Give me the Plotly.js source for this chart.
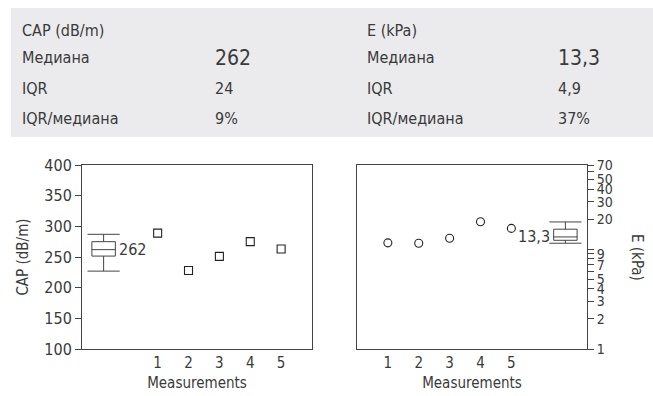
<!DOCTYPE html>
<html><head><meta charset="utf-8">
<script src="https://cdn.plot.ly/plotly-3.0.1.min.js"></script>
<style>html,body{margin:0;padding:0;background:#fff}#c{width:653px;height:396px}</style>
</head><body><div id="c"></div>
<script>
// ---- data ----
const measurements = [1, 2, 3, 4, 5];
const capValues = [289, 228, 251, 275, 263];
const eValues = [11.6, 11.5, 12.9, 18.9, 16.2];
// box summaries: [lower, q1, median, q3, upper]
const capBox = [227, 251.5, 262, 275, 287];
const eBox = [11.5, 12.3, 13.3, 15.9, 18.8];
const capMedianLabel = "262";
const eMedianLabel = "13,3";
const capBoxX = -0.75;
const eBoxX = 6.75;
const eTickVals = [1, 2, 3, 4, 5, 6, 7, 8, 9, 10, 20, 30, 40, 50, 60, 70];
const eTickText = ["1", "2", "3", "4", "5", "", "7", "", "9", "", "20", "30", "40", "50", "", "70"];
// table
const tableHeaders = ["CAP (dB/m)", "E (kPa)"];
const rowLabels = ["Медиана", "IQR", "IQR/медиана"];
const capStats = ["262", "24", "9%"];
const eStats = ["13,3", "4,9", "37%"];

const FONT = "DejaVu Sans Condensed, DejaVu Sans, sans-serif";
const TXT = "#3a3a3a";
const LN = "#444";

function boxTrace(xv, b, xa, ya) {
  return {type: 'box', x: [xv], q1: [b[1]], median: [b[2]], q3: [b[3]],
    lowerfence: [b[0]], upperfence: [b[4]], width: 0.76,
    fillcolor: 'rgba(0,0,0,0)', line: {color: LN, width: 1},
    whiskerwidth: 0, boxpoints: false, xaxis: xa, yaxis: ya, hoverinfo: 'skip', showlegend: false};
}
function capTrace(xv, b, xa, ya) {
  return {type: 'scatter', mode: 'markers', x: [xv, xv], y: [b[0], b[4]],
    marker: {symbol: 'line-ew', size: 23, line: {color: LN, width: 1}},
    xaxis: xa, yaxis: ya, showlegend: false, hoverinfo: 'skip'};
}

const traces = [
  {type: 'scatter', mode: 'markers', x: measurements, y: capValues, xaxis: 'x', yaxis: 'y',
   marker: {symbol: 'square-open', size: 8, color: '#222', line: {width: 1.1}}, showlegend: false},
  boxTrace(capBoxX, capBox, 'x', 'y'), capTrace(capBoxX, capBox, 'x', 'y'),
  {type: 'scatter', mode: 'markers', x: measurements, y: eValues, xaxis: 'x2', yaxis: 'y2',
   marker: {symbol: 'circle-open', size: 8, color: '#222', line: {width: 1.1}}, showlegend: false},
  boxTrace(eBoxX, eBox, 'x2', 'y2'), capTrace(eBoxX, eBox, 'x2', 'y2')
];

const yDom = [47/396, 231/396];
const annotations = [];
// table
const rowsY = [30, 58, 88, 118];
const colX = [20, 213, 365, 556];
function py(p) { return 1 - p/396; }
function px(p) { return p/653; }
function tableText(x, y, t, size) {
  annotations.push({xref: 'paper', yref: 'paper', x: px(x), y: py(y), text: t, showarrow: false,
    xanchor: 'left', yanchor: 'middle', font: {size: size, color: TXT, family: FONT}});
}
tableText(colX[0], rowsY[0], tableHeaders[0], 16);
tableText(colX[2], rowsY[0], tableHeaders[1], 16);
rowLabels.forEach((lab, i) => {
  const big = i === 0 ? 21 : 16;
  tableText(colX[0], rowsY[i+1], lab, 16);
  tableText(colX[1], rowsY[i+1], capStats[i], big);
  tableText(colX[2], rowsY[i+1], lab, 16);
  tableText(colX[3], rowsY[i+1], eStats[i], big);
});
// median labels
annotations.push({xref: 'x', yref: 'y', x: capBoxX + 0.42, y: capBox[2], text: capMedianLabel, showarrow: false, xanchor: 'left', yanchor: 'middle', font: {size: 16, color: TXT, family: FONT}});
annotations.push({xref: 'x2', yref: 'y2', x: eBoxX - 0.42, y: Math.log10(eBox[2]), text: eMedianLabel, showarrow: false, xanchor: 'right', yanchor: 'middle', font: {size: 16, color: TXT, family: FONT}});
// right y title
annotations.push({xref: 'paper', yref: 'paper', x: px(637), y: (yDom[0]+yDom[1])/2, text: 'E (kPa)', textangle: 90, showarrow: false, xanchor: 'center', yanchor: 'middle', font: {size: 15, color: TXT, family: FONT}});

const axisCommon = {showgrid: false, zeroline: false, showline: true, linecolor: LN, linewidth: 1, mirror: true,
  tickfont: {size: 15, color: TXT, family: FONT}};

const layout = {
  width: 653, height: 396, margin: {l: 0, r: 0, t: 0, b: 0},
  paper_bgcolor: '#fff', plot_bgcolor: '#fff', showlegend: false,
  font: {family: FONT, color: TXT},
  shapes: [{type: 'rect', xref: 'paper', yref: 'paper', x0: px(11), x1: 1, y0: py(137), y1: py(8), fillcolor: '#ebebed', line: {width: 0}, layer: 'below'}],
  xaxis: Object.assign({}, axisCommon, {domain: [82/653, 312/653], range: [-1.45, 6], tickvals: measurements, ticks: '',
    title: {text: 'Measurements', font: {size: 15, color: TXT, family: FONT}, standoff: 6}, anchor: 'y'}),
  yaxis: Object.assign({}, axisCommon, {domain: yDom, range: [100, 400], dtick: 50, ticks: 'outside', ticklen: 6, tickcolor: LN,
    tickfont: {size: 16, color: TXT, family: FONT},
    title: {text: 'CAP (dB/m)', font: {size: 15, color: TXT, family: FONT}, standoff: 12}, anchor: 'x'}),
  xaxis2: Object.assign({}, axisCommon, {domain: [357/653, 587/653], range: [0, 7.45], tickvals: measurements, ticks: '',
    title: {text: 'Measurements', font: {size: 15, color: TXT, family: FONT}, standoff: 6}, anchor: 'y2'}),
  yaxis2: Object.assign({}, axisCommon, {domain: yDom, type: 'log', range: [0, Math.log10(70)], side: 'right',
    tickvals: eTickVals, ticktext: eTickText, ticks: 'outside', ticklen: 6, tickcolor: LN, anchor: 'x2',
    tickfont: {size: 14, color: TXT, family: FONT}}),
  annotations: annotations
};

Plotly.newPlot('c', traces, layout, {staticPlot: true});
</script></body></html>
